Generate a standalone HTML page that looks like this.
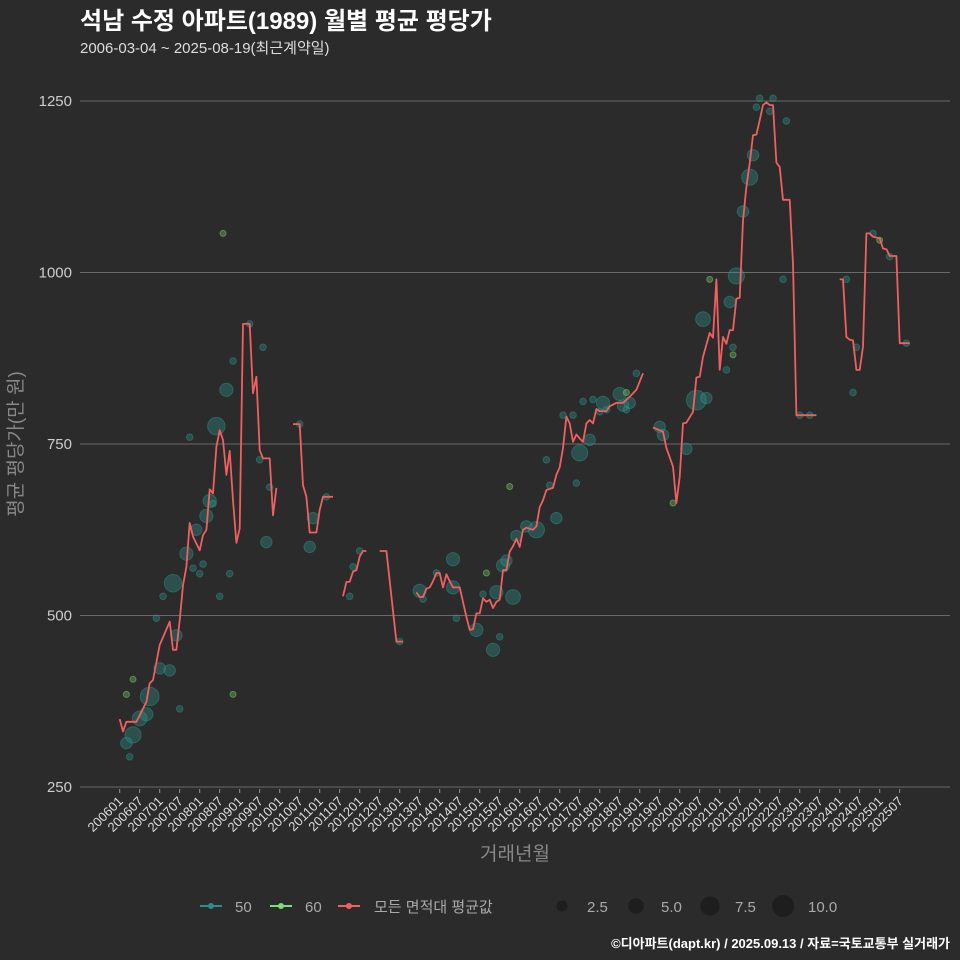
<!DOCTYPE html>
<html><head><meta charset="utf-8"><style>
body{margin:0;background:#2b2b2b;}
svg{display:block;font-family:"Liberation Sans","Noto Sans CJK KR",sans-serif;}
</style></head><body>
<svg id="c" width="960" height="960" viewBox="0 0 960 960">
<rect width="960" height="960" fill="#2b2b2b"/>
<text x="80" y="29" fill="#fff" font-size="24" font-weight="bold">석남 수정 아파트(1989) 월별 평균 평당가</text>
<text x="80" y="53" fill="#ddd" font-size="15">2006-03-04 ~ 2025-08-19(최근계약일)</text>
<g id="grid"></g>
<g id="yticks"></g>
<g id="xticks"></g>
<g id="pts"></g>
<g id="lines"></g>
<text transform="translate(22,444) rotate(-90)" text-anchor="middle" fill="#888" font-size="19">평균 평당가(만 원)</text>
<text x="515" y="860" text-anchor="middle" fill="#888" font-size="19">거래년월</text>
<g>
<g><line x1="200" y1="906" x2="222" y2="906" stroke="#2a8f8c" stroke-width="2"/><circle cx="211" cy="906" r="3" fill="#2a8f8c"/><text x="235" y="912" fill="#aaa" font-size="15">50</text></g>
<g><line x1="270" y1="906" x2="292" y2="906" stroke="#7ddc7d" stroke-width="2"/><circle cx="281" cy="906" r="3" fill="#7ddc7d"/><text x="305" y="912" fill="#aaa" font-size="15">60</text></g>
<g><line x1="338" y1="906" x2="360" y2="906" stroke="#f06060" stroke-width="2"/><circle cx="349" cy="906" r="3" fill="#f06060"/><text x="374" y="912" fill="#aaa" font-size="15">모든 면적대 평균값</text></g>
<g>
<circle cx="562" cy="906" r="5.5" fill="#1e1e1e"/><text x="587" y="912" fill="#aaa" font-size="15">2.5</text>
<circle cx="636" cy="906" r="7.8" fill="#1e1e1e"/><text x="661" y="912" fill="#aaa" font-size="15">5.0</text>
<circle cx="710" cy="906" r="9.6" fill="#1e1e1e"/><text x="735" y="912" fill="#aaa" font-size="15">7.5</text>
<circle cx="783" cy="906" r="11" fill="#1e1e1e"/><text x="808" y="912" fill="#aaa" font-size="15">10.0</text>
</g></g>
<text x="950" y="948" text-anchor="end" fill="#fff" font-size="13" font-weight="bold">©디아파트(dapt.kr) / 2025.09.13 / 자료=국토교통부 실거래가</text>
</svg>
<script>
// month index from 2006-01
const avgMonths=[0,1,2,5,8,9,10,12,15,16,17,18,19,20,21,22,24,25,26,27,28,29,30,31,32,33,34,35,36,37,38,39,40,41,42,43,45,46,47,null,
52,54,55,56,57,59,60,61,64,null,67,68,69,70,71,72,73,74,null,78,80,83,85,null,
89,90,91,92,93,94,95,96,97,98,99,100,101,102,104,105,106,107,108,109,110,111,112,113,114,115,116,117,118,119,120,121,122,124,125,126,127,128,130,131,132,133,134,135,136,137,138,139,140,141,142,143,144,146,147,149,151,153,155,156,157,null,
160,163,164,166,167,168,169,170,172,173,174,175,177,178,179,180,181,182,183,184,185,186,187,188,189,190,191,192,193,194,195,196,197,198,199,201,202,203,209,null,
216,217,218,219,220,221,222,223,224,225,226,228,229,230,231,233,234,237];
const avgValues=[349,331,345,345,374,401,406,457,491,450,450,493,544,571,635,615,595,617,625,684,678,746,770,756,705,740,668,606,627,925,925,925,824,848,741,729,729,646,686,null,
779,779,690,673,621,621,654,673,673,null,528,549,549,564,566,586,594,594,null,594,594,462,462,null,
534,527,527,539,541,550,562,562,541,560,550,541,541,541,498,479,480,503,503,525,520,523,511,520,523,566,566,593,601,612,600,625,628,625,630,658,668,683,686,705,716,744,790,780,753,764,758,753,780,785,780,801,798,798,805,810,810,819,829,841,853,null,
774,768,744,717,664,702,780,781,797,847,848,877,912,905,990,858,906,896,916,916,962,963,1076,1125,1159,1200,1201,1222,1244,1248,1244,1244,1160,1154,1106,1106,1013,792,792,null,
990,990,906,902,901,858,858,892,1057,1057,1052,1050,1035,1034,1024,1024,897,897];
const tealMonths=[3,2,4,6,8,9,12,15,18,17,11,13,16,20,22,24,25,23,26,27,28,29,21,32,34,39,43,30,33,42,45,44,54,58,57,62,69,70,72,84,90,91,95,100,100,101,107,109,113,112,114,118,115,116,119,122,125,131,128,129,133,136,138,141,137,139,142,145,144,146,150,151,153,152,155,162,163,170,173,176,175,183,185,184,182,187,189,190,191,192,196,195,200,199,204,207,218,221,220,226,231,236];
const tealValues=[294,314,326,350,356,382,423,420,364,471,496,528,547,590,569,561,575,625,645,667,663,776,760,829,871,925,891,528,561,727,687,607,779,642,600,673,528,571,594,462,536,524,562,582,541,496,479,531,534,450,469,527,573,580,616,630,625,642,727,690,792,792,737,756,693,812,815,810,797,800,823,806,810,800,853,775,763,743,814,817,932,957,995,891,858,1089,1139,1171,1241,1254,1254,1235,1221,990,792,792,990,891,825,1057,1023,897];
const tealCounts=[1,3,6,5,4,8,3,3,1,3,1,1,7,4,1,1,1,3,4,4,1,7,1,4,1,1,1,1,1,1,1,3,1,3,3,1,1,1,1,1,4,1,1,4,4,1,4,1,4,4,1,5,4,3,3,3,6,3,1,1,1,1,6,3,1,1,1,4,1,1,4,3,3,1,1,3,3,3,9,3,5,3,6,1,1,3,6,3,1,1,1,1,1,1,1,1,1,1,1,1,1,1];
const greenMonths=[4,2,34,31,110,117,152,166,177,184,228];
const greenValues=[407,385,385,1057,562,688,825,664,990,880,1047];
const yTicks=[250,500,750,1000,1250];
const xTickLabels=[];
for(let y=2006;y<=2025;y++){xTickLabels.push(y+'01');xTickLabels.push(y+'07');}

const NS='http://www.w3.org/2000/svg';
const X=i=>119.7+i*3.3333;
const Y=v=>787-(v-250)*0.686;
function mk(tag,attrs,parent){const e=document.createElementNS(NS,tag);for(const k in attrs)e.setAttribute(k,attrs[k]);parent.appendChild(e);return e;}
const grid=document.getElementById('grid'),yt=document.getElementById('yticks'),xt=document.getElementById('xticks');
yTicks.forEach(v=>{
  const l=mk('line',{x1:80,x2:950,y1:Y(v),y2:Y(v),stroke:'#6a6a6a','stroke-width':1},grid);
  
  
  const t=mk('text',{x:72,y:Y(v)+5,'text-anchor':'end',fill:'#ccc','font-size':15},yt);
  t.textContent=v;
  
  
});
xTickLabels.forEach((lab,k)=>{
  const x=X(k*6);
  mk('line',{x1:x,x2:x,y1:789,y2:793,stroke:'#999'},xt);
  const t=mk('text',{transform:`translate(${x+4},${802}) rotate(-45)`,'text-anchor':'end',fill:'#ddd','font-size':13},xt);
  t.textContent=lab;
  
  
});
const pts=document.getElementById('pts');
tealMonths.forEach((m,k)=>{
  const c=mk('circle',{cx:X(m),cy:Y(tealValues[k]),r:3.3*Math.sqrt(tealCounts[k]),fill:'rgba(45,150,140,0.35)',stroke:'rgba(45,150,140,0.45)'},pts);
  
  
});
greenMonths.forEach((m,k)=>{
  const c=mk('circle',{cx:X(m),cy:Y(greenValues[k]),r:3,fill:'rgba(120,200,100,0.35)',stroke:'rgba(120,200,100,0.55)'},pts);
  
  
});
const lines=document.getElementById('lines');
let seg=[];
function flush(){
  if(seg.length>1){
    const p=mk('polyline',{points:seg.join(' '),fill:'none',stroke:'#f06060','stroke-width':1.8,'stroke-linejoin':'round'},lines);
    
    
  }
  seg=[];
}
avgMonths.forEach((m,k)=>{
  if(m===null||avgValues[k]===null){flush();return;}
  seg.push(X(m).toFixed(1)+','+Y(avgValues[k]).toFixed(1));
});
flush();
</script>
</body></html>
